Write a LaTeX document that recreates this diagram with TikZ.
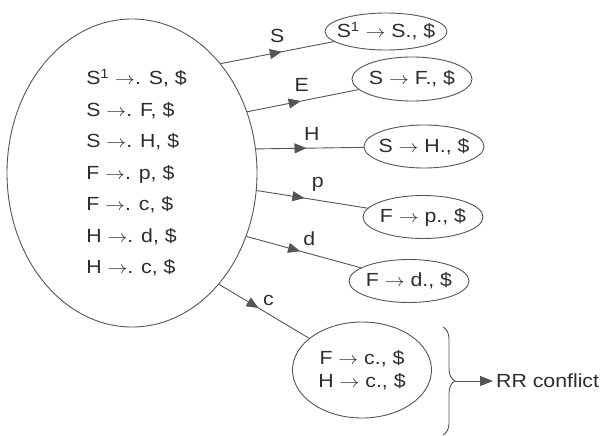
\documentclass[tikz,border=0pt]{standalone}
\usepackage{fontspec}
\setmainfont{Liberation Sans}[FakeStretch=1.12]
\usetikzlibrary{shapes.geometric,arrows.meta,decorations.markings,decorations.pathreplacing}

\definecolor{linegray}{RGB}{85,85,85}
\definecolor{textgray}{RGB}{45,45,45}

\tikzset{
    item/.style={ellipse,draw=linegray,line width=0.9pt,inner sep=-12pt,text=textgray,
        font=\fontsize{19}{23}\selectfont},
    goto/.style={draw=linegray,line width=0.9pt,postaction={decorate},
        decoration={markings,mark=at position #1 with {\arrow[linegray]{Triangle[length=12pt,width=10pt]}}}},
    goto/.default=0.48,
    sym/.style={text=textgray,inner sep=2pt,text height=14pt,text depth=4pt,
        font=\fontsize{19}{23}\selectfont}
}

\begin{document}
\begin{tikzpicture}[x=1pt,y=-1pt]
    \pgfmathsetmacro{\itemwidth}{120}
    \pgfmathsetmacro{\itemheight}{43}
    \providecommand{\yields}{\scalebox{1.15}[1]{$\rightarrow$}}
    \useasboundingbox (0,0) rectangle (600,436);
    % start state
    \node[item,minimum width=250,minimum height=308,font=\fontsize{19}{31.5}\selectfont] (I0) at (132,173) {%
        \begin{tabular}{@{\hspace{9pt}}l@{}}
        S\textsuperscript{1} \yields. S, \$\\
        S \yields. F, \$\\
        S \yields. H, \$\\
        F \yields. p, \$\\
        F \yields. c, \$\\
        H \yields. d, \$\\
        H \yields. c, \$
        \end{tabular}};
    % successor states
    \node[item,minimum width=122,minimum height=37] (I1) at (386,31.5) {S\textsuperscript{1} \yields{} S., \$};
    \node[item,minimum width=\itemwidth,minimum height=44] (I2) at (412,79) {S \yields{} F., \$};
    \node[item,minimum width=\itemwidth,minimum height=\itemheight] (I3) at (424,146.5) {S \yields{} H., \$};
    \node[item,minimum width=\itemwidth,minimum height=\itemheight] (I4) at (423,217) {F \yields{} p., \$};
    \node[item,minimum width=\itemwidth,minimum height=\itemheight] (I5) at (409,281) {F \yields{} d., \$};
    \node[item,minimum width=139,minimum height=96,align=center] (I6) at (362,370) {F \yields{} c., \$\\H \yields{} c., \$};
    % transitions
    \draw[goto=0.54] (I0.51.7) -- node[sym,pos=0.5,above=4pt] {S} (I1);
    \draw[goto] (I0.28.3) -- node[sym,pos=0.49,above=2.5pt] {E} (I2);
    \draw[goto=0.47] (I0.11.5) -- node[sym,pos=0.52,above=1.5pt] {H} (I3);
    \draw[goto=0.43] (I0.-8.5) -- node[sym,pos=0.55,above=6pt] {p} (I4);
    \draw[goto=0.47] (I0.-29.3) -- node[sym,pos=0.55,above=2pt] {d} (I5);
    \draw[goto=0.44] (I0.-52.5) -- node[sym,pos=0.55,above=2pt] {c} (I6);
    % conflict
    \draw[linegray,line width=0.9pt,decorate,decoration={brace,amplitude=12pt}] (443,327) -- (443,435);
    \coordinate (tip) at (455,381);
    \node[anchor=west,inner sep=3pt,text=textgray,font=\fontsize{19}{23}\selectfont] (rr) at (493,381) {RR conflict};
    \draw[linegray,line width=0.9pt,-{Triangle[length=13pt,width=10pt]}] (tip) -- (rr.west);
\end{tikzpicture}
\end{document}
